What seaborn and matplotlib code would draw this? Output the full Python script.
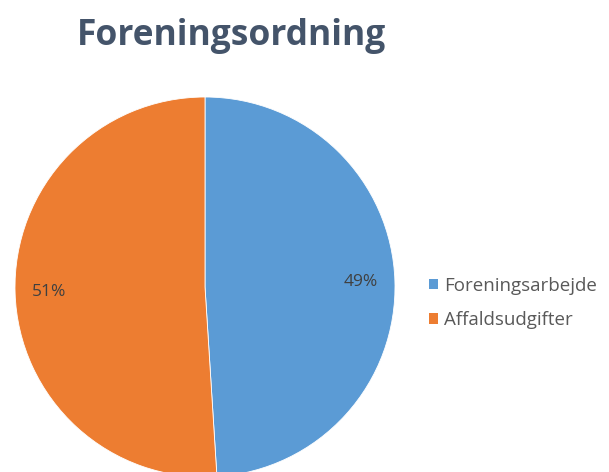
import matplotlib
matplotlib.use("Agg")
import matplotlib.pyplot as plt
import seaborn as sns
from matplotlib.patches import Patch

# Data
labels = ["Foreningsarbejde", "Affaldsudgifter"]
shares = [49, 51]
colors = ["#5B9BD5", "#ED7D31"]

sns.set_theme(style="white")
plt.rcParams["font.family"] = ["Open Sans", "DejaVu Sans"]

fig = plt.figure(figsize=(6.09, 4.72), dpi=100)
ax = fig.add_axes([15 / 609, -5 / 472, 380 / 609, 380 / 472])

wedges, texts, autotexts = ax.pie(
    shares,
    colors=colors,
    startangle=90,
    counterclock=False,
    autopct="%d%%",
    pctdistance=0.82,
    wedgeprops=dict(linewidth=0.6, edgecolor="white"),
    textprops=dict(fontsize=12.5, color="#404040"),
)
ax.set_xlim(-1, 1)
ax.set_ylim(-1, 1)
ax.set_aspect("equal")

fig.text(232 / 609, 1 - 36 / 472, "Foreningsordning", ha="center", va="center",
         fontsize=25.5, fontweight="bold", color="#44546A")

handles = [Patch(facecolor=c, edgecolor="none") for c in colors]
fig.legend(handles, labels, loc="center left", bbox_to_anchor=(412 / 609, 1 - 303 / 472),
           frameon=False, fontsize=13.5, labelcolor="#595959",
           handlelength=0.5, handleheight=0.5, handletextpad=0.3, labelspacing=0.9)

fig.savefig("out.png", dpi=100, facecolor="white")
